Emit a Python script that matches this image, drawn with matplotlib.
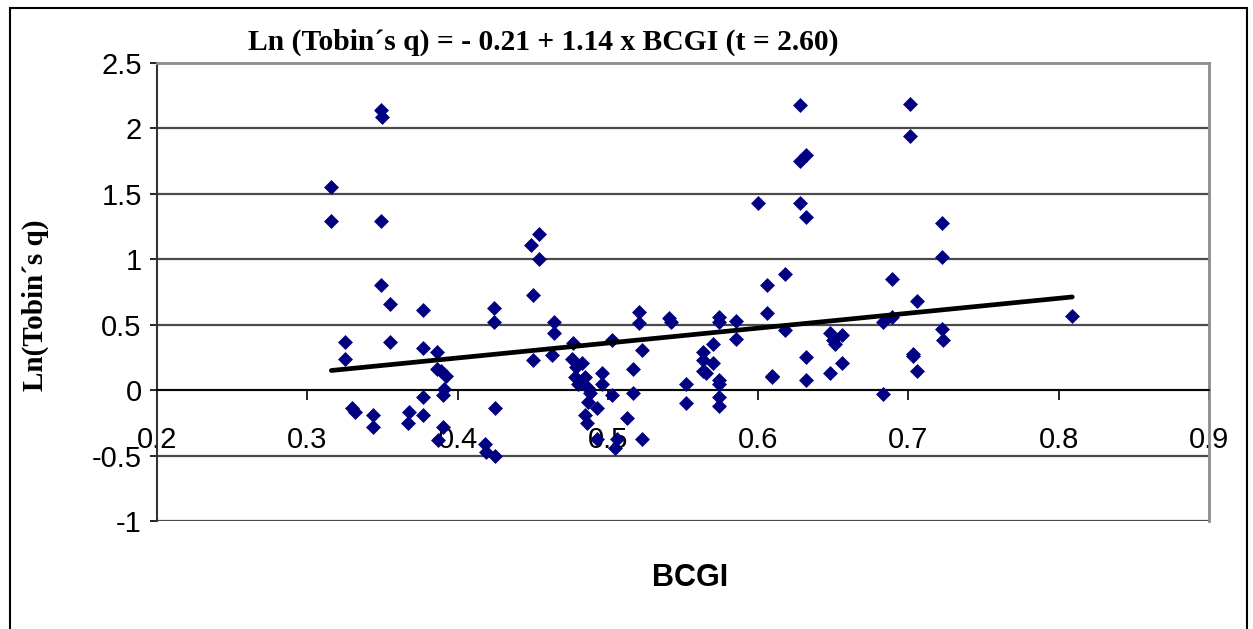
import matplotlib
matplotlib.use("Agg")
import matplotlib.pyplot as plt
import numpy as np

# values
bcgi = [0.316, 0.316, 0.325, 0.325, 0.330, 0.332, 0.344, 0.344, 0.349, 0.350,
        0.349, 0.349, 0.355, 0.355, 0.368, 0.367, 0.377, 0.377, 0.377, 0.377,
        0.386, 0.386, 0.389, 0.392, 0.391, 0.390, 0.390, 0.387, 0.424, 0.424,
        0.425, 0.418, 0.419, 0.425, 0.450, 0.449, 0.454, 0.454, 0.450, 0.464,
        0.464, 0.463, 0.477, 0.476, 0.479, 0.483, 0.478, 0.480, 0.485, 0.487,
        0.488, 0.487, 0.493, 0.485, 0.486, 0.493, 0.505, 0.506, 0.496, 0.496,
        0.503, 0.503, 0.513, 0.517, 0.517, 0.521, 0.521, 0.523, 0.523, 0.541,
        0.542, 0.552, 0.552, 0.563, 0.563, 0.563, 0.565, 0.570, 0.570, 0.574,
        0.574, 0.574, 0.574, 0.574, 0.574, 0.585, 0.585, 0.600, 0.606, 0.606,
        0.609, 0.609, 0.618, 0.618, 0.628, 0.628, 0.632, 0.628, 0.632, 0.632,
        0.632, 0.648, 0.650, 0.651, 0.656, 0.648, 0.656, 0.683, 0.683, 0.689,
        0.689, 0.701, 0.701, 0.703, 0.703, 0.706, 0.706, 0.722, 0.722, 0.722,
        0.723, 0.809]
ln_q = [1.55, 1.29, 0.37, 0.24, -0.14, -0.17, -0.19, -0.28, 2.14, 2.09,
        1.29, 0.80, 0.66, 0.37, -0.17, -0.25, 0.61, 0.32, -0.05, -0.19,
        0.29, 0.16, 0.15, 0.11, 0.01, -0.04, -0.28, -0.38, 0.63, 0.52,
        -0.14, -0.41, -0.47, -0.50, 0.73, 1.11, 1.19, 1.00, 0.23, 0.52,
        0.44, 0.27, 0.36, 0.24, 0.18, 0.21, 0.10, 0.05, 0.10, 0.02,
        -0.02, -0.09, -0.14, -0.19, -0.25, -0.37, -0.44, -0.37, 0.13, 0.05,
        0.38, -0.04, -0.21, 0.16, -0.02, 0.60, 0.51, 0.31, -0.37, 0.55,
        0.52, 0.05, -0.10, 0.29, 0.23, 0.15, 0.13, 0.35, 0.21, 0.56,
        0.52, 0.08, 0.05, -0.05, -0.12, 0.53, 0.39, 1.43, 0.80, 0.59,
        0.10, 0.11, 0.89, 0.46, 2.18, 1.75, 1.80, 1.43, 1.32, 0.25,
        0.08, 0.44, 0.38, 0.35, 0.42, 0.13, 0.21, 0.52, -0.03, 0.85,
        0.56, 2.19, 1.94, 0.28, 0.26, 0.68, 0.15, 1.28, 1.02, 0.47,
        0.38, 0.57]

intercept = -0.21
slope = 1.14
x_ticks = [0.2, 0.3, 0.4, 0.5, 0.6, 0.7, 0.8, 0.9]
x_tick_labels = ["0.2", "0.3", "0.4", "0.5", "0.6", "0.7", "0.8", "0.9"]
y_ticks = [-1, -0.5, 0, 0.5, 1, 1.5, 2, 2.5]
y_tick_labels = ["-1", "-0.5", "0", "0.5", "1", "1.5", "2", "2.5"]

fig = plt.figure(figsize=(12.53, 6.29), dpi=100, facecolor='white')
ax = fig.add_axes([0.1253, 0.1717, 0.8396, 0.7281])

# outer chart frame (bottom edge falls off the canvas)
frame = plt.Rectangle((0.008, -0.05), 0.987, 1.037, transform=fig.transFigure,
                      fill=False, edgecolor='black', linewidth=1.5)
fig.patches.append(frame)

ax.set_xlim(0.2, 0.9)
ax.set_ylim(-1, 2.5)

# horizontal gridlines
for yv in y_ticks:
    ax.axhline(yv, color='#4a4a4a', linewidth=1.6, zorder=1)

ax.scatter(bcgi, ln_q, marker='D', s=58, color='#000080', linewidths=0, zorder=3)

# fitted line
xl = np.array([min(bcgi), max(bcgi)])
ax.plot(xl, intercept + slope * xl, color='black', linewidth=3.4, zorder=4,
        solid_capstyle='round')

# x axis sits on y = 0
ax.spines['bottom'].set_position(('data', 0))
ax.spines['bottom'].set_color('black')
ax.spines['bottom'].set_linewidth(1.3)
ax.spines['left'].set_color('#333333')
ax.spines['left'].set_linewidth(1.5)
ax.spines['top'].set_color('#8c8c8c')
ax.spines['top'].set_linewidth(2)
ax.spines['right'].set_color('#8c8c8c')
ax.spines['right'].set_linewidth(2)

ax.set_xticks(x_ticks)
ax.set_xticklabels(x_tick_labels)
ax.set_yticks(y_ticks)
ax.set_yticklabels(y_tick_labels)
ax.tick_params(axis='x', direction='out', length=7, width=1.2, pad=19,
               labelsize=21, colors='black')
ax.tick_params(axis='y', direction='out', length=5, width=1.2, pad=6,
               labelsize=21, colors='black')
for lab in ax.get_xticklabels() + ax.get_yticklabels():
    lab.set_fontfamily('Liberation Sans')

fig.text(0.198, 0.933, "Ln (Tobin\u00b4s q) = - 0.21 + 1.14 x BCGI (t = 2.60)",
         fontsize=21.3, fontweight='bold', family='Liberation Serif',
         ha='left', va='center')
fig.text(0.028, 0.515, "Ln(Tobin\u00b4s q)", fontsize=21, fontweight='bold',
         family='Liberation Serif', rotation=90, ha='center', va='center')
fig.text(0.551, 0.081, "BCGI", fontsize=22, fontweight='bold',
         family='Liberation Sans', ha='center', va='center')

fig.savefig('out.png', dpi=100, facecolor='white')
